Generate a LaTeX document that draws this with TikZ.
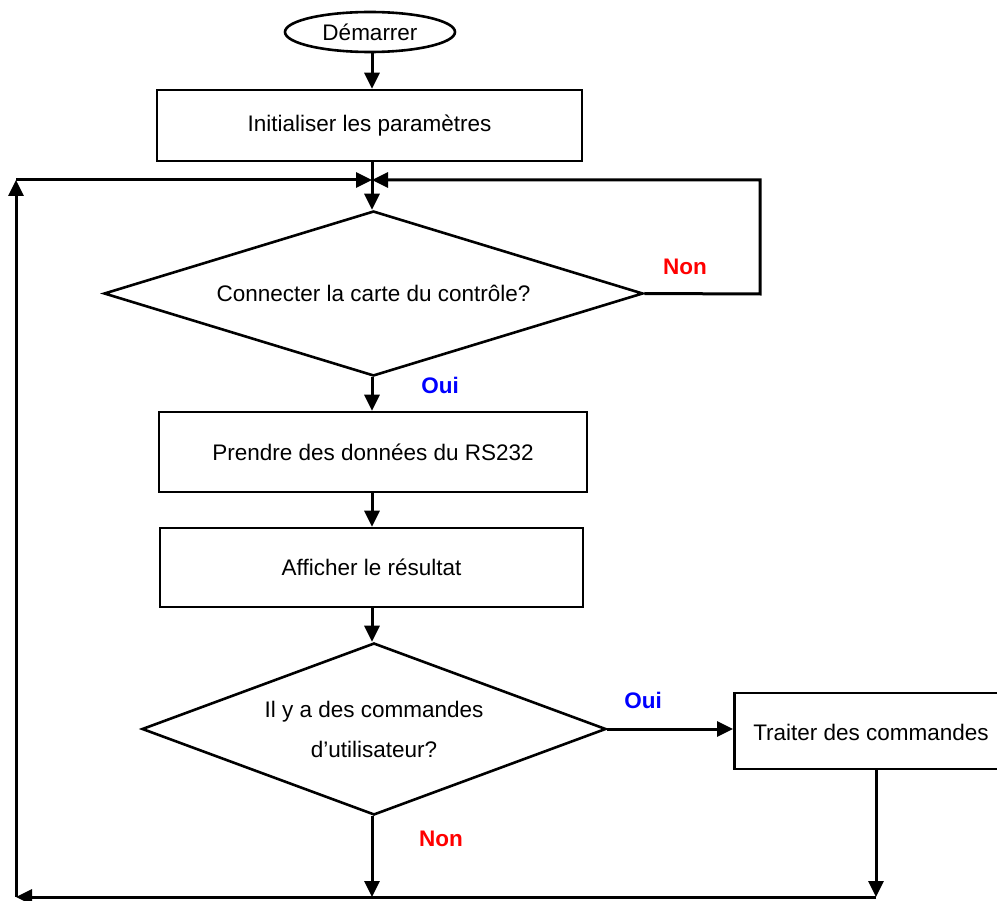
\documentclass[tikz,border=0pt]{standalone}
\usepackage{fontspec}
\setmainfont{Liberation Sans}
\usetikzlibrary{shapes.geometric,arrows.meta}
\begin{document}
\begin{tikzpicture}[x=1pt,y=-1pt,
  every node/.style={font=\fontsize{22.5}{27}\selectfont},
  arr/.style={line width=3pt, -{Triangle[length=16pt,width=15pt]}},
  procbox/.style={draw, line width=2.6pt, rectangle, inner sep=0pt},
  decision/.style={draw, line width=2.6pt, diamond, inner sep=0pt},
  yes/.style={text=blue, font=\fontsize{22.5}{27}\selectfont\bfseries},
  no/.style={text=red, font=\fontsize{22.5}{27}\selectfont\bfseries}]
\useasboundingbox (0,0) rectangle (997,901);
\coordinate (spine) at (372,0);
\node[draw, line width=2.6pt, ellipse, minimum width=170pt, minimum height=40pt, inner sep=0pt] (start) at (370,32) {Démarrer};
\node[procbox, minimum width=425pt, minimum height=71pt] (init) at (369.5,125.5) {Initialiser les paramètres};
\node[decision, minimum width=539pt, minimum height=165pt, shape aspect=3.27] (d1) at (373.5,293.5) {Connecter la carte du contrôle?};
\node[procbox, minimum width=428pt, minimum height=80pt] (prendre) at (373,452) {Prendre des données du RS232};
\node[procbox, minimum width=423pt, minimum height=79pt] (aff) at (371.5,567.5) {Afficher le résultat};
\node[decision, minimum width=464pt, minimum height=172pt, shape aspect=2.7, align=center] (d2) at (374,729) {Il y a des commandes\\[13pt]d’utilisateur?};
\node[procbox, minimum width=264pt, minimum height=76pt, anchor=west] (trait) at (733,731) {};
\node at (871,732) (traittext) {Traiter des commandes};

\coordinate (junc) at (372,180);
\coordinate (tl) at (16,180);
\coordinate (bl) at (16,897);
\coordinate (bm) at (372,897);
\coordinate (br) at (876,897);
\coordinate (nr) at (760,294);
\coordinate (tr) at (760,180);

\draw[arr] (start.south -| spine) -- (init.north -| spine);
\draw[arr] (init.south -| spine) -- (d1.north -| spine);
\draw[arr] (d1.south -| spine) -- (prendre.north -| spine);
\draw[arr] (prendre.south -| spine) -- (aff.north -| spine);
\draw[arr] (aff.south -| spine) -- (d2.north -| spine);
\draw[arr] (d2.south -| spine) -- (bm);
\draw[arr] (d2.east) -- (trait.west |- d2.east);
\draw[arr] (trait.south -| br) -- (br);
\draw[arr] (br) -- (bl);
\draw[arr] (bl) -- (tl);
\draw[arr] (tl) -- (junc);
\draw[arr] (d1.east) -- (nr) -- (tr) -- (junc);

\node[no] (non1) at (685,267) {Non};
\node[yes] (oui1) at (440,385) {Oui};
\node[yes] (oui2) at (643,700) {Oui};
\node[no] (non2) at (441,839) {Non};
\end{tikzpicture}
\end{document}
